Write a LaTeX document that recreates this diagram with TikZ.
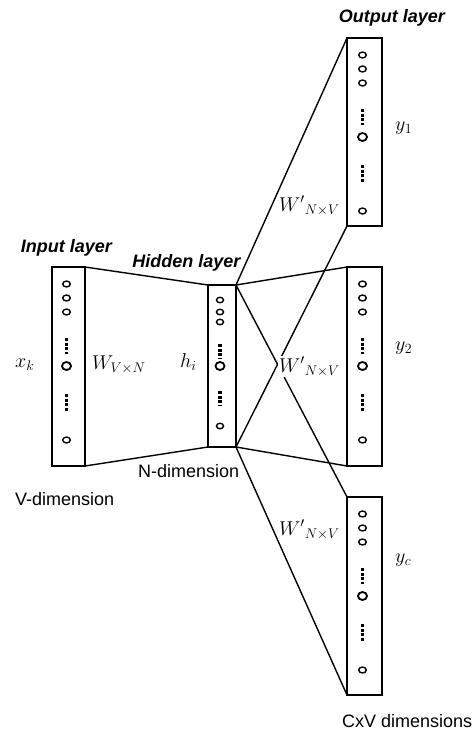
\RequirePackage{fix-cm}
\documentclass[tikz,border=0pt]{standalone}
\usepackage{fontspec}
\setmainfont{Liberation Sans}
\usepackage{tikz}
\usetikzlibrary{positioning,shapes.geometric}

\begin{document}
\begin{tikzpicture}[
    x=1pt, y=-1pt,
    layer/.style={draw, line width=1.4pt, rectangle, outer sep=0pt, inner sep=0pt},
    conn/.style={line width=1.4pt},
    neur/.style={draw, ellipse, line width=1.4pt, minimum width=7.5pt, minimum height=6pt, inner sep=0pt},
    bigneur/.style={neur, line width=1.8pt, minimum width=9pt, minimum height=8pt},
    vdots/.style={line width=3.5pt, dash pattern=on 3pt off 1.5pt},
    title/.style={font=\fontsize{18}{22}\selectfont\bfseries\itshape, inner sep=0pt},
    lab/.style={font=\fontsize{18}{22}\selectfont, inner sep=0pt},
    mlab/.style={font=\fontsize{20}{24}\selectfont, inner sep=0pt},
    wlab/.style={mlab, fill=white, inner sep=1pt}
]
\useasboundingbox (0,0) rectangle (475,732);

% layers
\node[layer, minimum width=33pt, minimum height=199pt] (inlay) at (68.5,366.5) {};
\node[layer, minimum width=28pt, minimum height=162pt] (hidlay) at (222,366) {};
\node[layer, minimum width=35pt, minimum height=188pt] (outA) at (364.5,132) {};
\node[layer, minimum width=35pt, minimum height=199pt] (outB) at (364.5,366.5) {};
\node[layer, minimum width=35pt, minimum height=198pt] (outC) at (364.5,596) {};

% units in the tall layers
\foreach \lay in {inlay, outA, outB, outC} {
  \foreach \dy in {17,31,45}
    \node[neur] (\lay-u\dy) at ([xshift=-2pt, yshift=-\dy pt]\lay.north) {};
  \draw[vdots] ([xshift=-2pt, yshift=-71pt]\lay.north) -- ++(0,-16pt);
  \node[bigneur] (\lay-mid) at ([xshift=-2pt, yshift=-99pt]\lay.north) {};
  \draw[vdots] ([xshift=-2pt, yshift=-127pt]\lay.north) -- ++(0,-18pt);
  \node[neur] (\lay-last) at ([xshift=-2pt, yshift=-173pt]\lay.north) {};
}

% units in the hidden layer
\foreach \dy in {15,27,37}
  \node[neur, minimum width=7pt, minimum height=5.5pt] (hid-u\dy) at ([xshift=-2pt, yshift=-\dy pt]hidlay.north) {};
\draw[vdots] ([xshift=-2pt, yshift=-59pt]hidlay.north) -- ++(0,-15pt);
\node[bigneur] (hid-mid) at ([xshift=-2pt, yshift=-81pt]hidlay.north) {};
\draw[vdots] ([xshift=-2pt, yshift=-106pt]hidlay.north) -- ++(0,-15pt);
\node[neur, minimum width=7pt, minimum height=5.5pt] (hid-last) at ([xshift=-2pt, yshift=-141pt]hidlay.north) {};

% weights
\draw[conn] (inlay.north east) -- (hidlay.north west);
\draw[conn] (inlay.south east) -- (hidlay.south west);
\draw[conn] (hidlay.north east) -- (outA.north west);
\draw[conn] (hidlay.north east) -- (outB.north west);
\draw[conn] (hidlay.north east) -- (outC.north west);
\draw[conn] (hidlay.south east) -- (outA.south west);
\draw[conn] (hidlay.south east) -- (outB.south west);
\draw[conn] (hidlay.south east) -- (outC.south west);

% labels
\node[title, anchor=base] (inname) at (66.5,252) {Input layer};
\node[title, anchor=base] (hidname) at (186.5,267) {Hidden layer};
\node[title, anchor=base] (outname) at (392,22) {Output layer};

\node[mlab, anchor=base west] (xk) at (15,367) {$x_k$};
\node[mlab, anchor=base west] (win) at (92,369) {$W_{V\times N}$};
\node[mlab, anchor=base west] (hi) at (180,367) {$h_i$};
\node[wlab, anchor=base west] (woutA) at (278,211) {${W'}_{N\times V}$};
\node[wlab, anchor=base west] (woutB) at (278,372) {${W'}_{N\times V}$};
\node[wlab, anchor=base west] (woutC) at (278,535) {${W'}_{N\times V}$};
\node[mlab, anchor=base west] (y1) at (395,130) {$y_1$};
\node[mlab, anchor=base west] (y2) at (395,350) {$y_2$};
\node[mlab, anchor=base west] (yc) at (395,562) {$y_c$};

\node[lab, anchor=base west] (ndim) at (138,477) {N-dimension};
\node[lab, anchor=base west] (vdim) at (15,505) {V-dimension};
\node[lab, anchor=base west] (cvdim) at (342,727) {CxV dimensions};
\end{tikzpicture}
\end{document}
